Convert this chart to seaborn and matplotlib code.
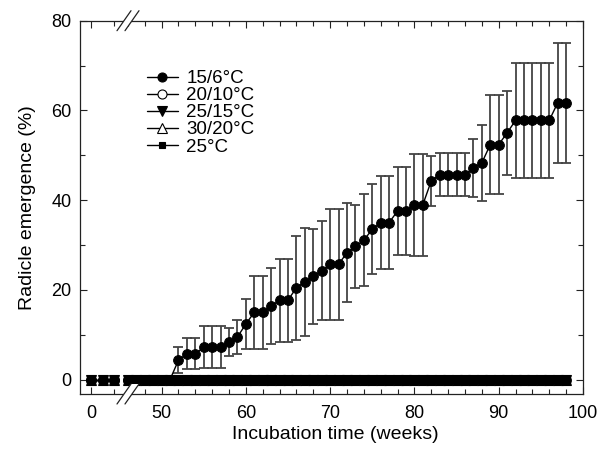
import numpy as np
import pandas as pd
import seaborn as sns
import matplotlib
matplotlib.use("Agg")
import matplotlib.pyplot as plt
from matplotlib.lines import Line2D
from matplotlib.patches import Polygon
from matplotlib.ticker import MultipleLocator, FixedLocator

# weeks before the axis break, and after it
weeks_early = [0, 1, 2]
weeks_late = [46, 47, 48, 49, 50, 51, 52, 53, 54, 55, 56, 57, 58, 59, 60,
              61, 62, 63, 64, 65, 66, 67, 68, 69, 70, 71, 72, 73, 74, 75,
              76, 77, 78, 79, 80, 81, 82, 83, 84, 85, 86, 87, 88, 89, 90,
              91, 92, 93, 94, 95, 96, 97, 98]

# radicle emergence (%) at 15/6 C, weeks_late
emerg_15_6 = [0, 0, 0, 0, 0, 0, 4.3, 5.8, 5.8, 7.2, 7.2, 7.2, 8.4, 9.5, 12.4,
              15.0, 15.0, 16.4, 17.7, 17.7, 20.5, 21.8, 23.0, 24.3, 25.7, 25.7, 28.3, 29.7, 31.1, 33.5,
              35.0, 35.0, 37.6, 37.6, 39.0, 39.0, 44.3, 45.7, 45.7, 45.7, 45.7, 47.2, 48.3, 52.4, 52.4,
              55.0, 57.8, 57.8, 57.8, 57.8, 57.8, 61.7, 61.7]
err_15_6 = [0, 0, 0, 0, 0, 0, 2.9, 3.4, 3.4, 4.7, 4.7, 4.7, 3.1, 3.8, 5.5,
            8.1, 8.1, 8.5, 9.2, 9.2, 11.6, 12.1, 10.6, 11.1, 12.3, 12.3, 11.1, 9.2, 10.2, 10.0,
            10.3, 10.3, 9.8, 9.8, 11.4, 11.4, 5.5, 4.8, 4.8, 4.8, 4.8, 6.5, 8.4, 11.0, 11.0,
            9.4, 12.8, 12.8, 12.8, 12.8, 12.8, 13.4, 13.4]

# all other regimes stayed at zero
emerg_zero = [0] * len(weeks_late)
emerg_early = [0, 0, 0]

labels = ["15/6\u00b0C", "20/10\u00b0C", "25/15\u00b0C", "30/20\u00b0C", "25\u00b0C"]
markers = ["o", "o", "v", "^", "s"]
faces = ["black", "white", "black", "white", "black"]
sizes = [7, 7, 7, 7, 5.5]

sns.set_theme(style="ticks")
plt.rcParams["font.family"] = ["Liberation Sans", "DejaVu Sans"]
plt.rcParams["axes.edgecolor"] = "#222222"
plt.rcParams["axes.linewidth"] = 0.9
plt.rcParams["text.color"] = "black"
plt.rcParams["axes.labelcolor"] = "black"
plt.rcParams["xtick.labelcolor"] = "black"
plt.rcParams["ytick.labelcolor"] = "black"

W, H = 610, 455
fig = plt.figure(figsize=(W / 100, H / 100), dpi=100)

x0, x_break, x1 = 80, 127, 583
y_top, y_bot = 20.7, 394
ax_l = fig.add_axes([x0 / W, 1 - y_bot / H, (x_break - x0) / W, (y_bot - y_top) / H])
ax_r = fig.add_axes([x_break / W, 1 - y_bot / H, (x1 - x_break) / W, (y_bot - y_top) / H], sharey=ax_l)

late_df = pd.DataFrame({"week": weeks_late, "val": emerg_15_6, "err": err_15_6})
early_df = pd.DataFrame({"week": weeks_early, "val": emerg_early})

# other regimes, flat at zero (open markers under the filled ones)
draw_order = [1, 3, 4, 2]
for ax, wk, zero in [(ax_l, weeks_early, emerg_early), (ax_r, weeks_late, emerg_zero)]:
    for i in draw_order:
        sns.lineplot(x=wk, y=zero, ax=ax, color="black", lw=1, marker=markers[i],
                     markersize=sizes[i], markerfacecolor=faces[i], markeredgecolor="black",
                     markeredgewidth=0.8, legend=False, clip_on=False, zorder=3)

# 15/6 C series with error bars
has_err = late_df["err"] > 0
ax_r.errorbar(late_df["week"][has_err], late_df["val"][has_err],
              yerr=late_df["err"][has_err], fmt="none", ecolor="#444444",
              elinewidth=1.3, capsize=3.8, capthick=1.3, zorder=2)
sns.lineplot(data=late_df, x="week", y="val", ax=ax_r, color="black", lw=1, marker="o",
             markersize=sizes[0], markerfacecolor="black", markeredgecolor="black",
             legend=False, clip_on=False, zorder=4)
sns.lineplot(data=early_df, x="week", y="val", ax=ax_l, color="black", lw=1, marker="o",
             markersize=sizes[0], markerfacecolor="black", markeredgecolor="black",
             legend=False, clip_on=False, zorder=4)

ax_l.set_xlim(-0.96, 3.13)
ax_r.set_xlim(45.9, 100)
ax_l.set_ylim(-3.2, 80)

ax_l.yaxis.set_major_locator(MultipleLocator(20))
ax_l.yaxis.set_minor_locator(MultipleLocator(10))
ax_l.xaxis.set_major_locator(FixedLocator([0]))
ax_l.xaxis.set_minor_locator(FixedLocator([2]))
ax_r.xaxis.set_major_locator(MultipleLocator(10))
ax_r.xaxis.set_minor_locator(MultipleLocator(2))

ax_l.spines["right"].set_visible(False)
ax_r.spines["left"].set_visible(False)
for ax in (ax_l, ax_r):
    ax.tick_params(which="both", direction="in", top=True, width=0.8, color="#222222",
                   labelsize=13, pad=6)
    ax.tick_params(which="major", length=5)
    ax.tick_params(which="minor", length=3.5)
    ax.set_xlabel("")
    ax.set_ylabel("")
ax_l.tick_params(axis="y", which="both", left=True, right=False)
ax_r.tick_params(axis="y", which="both", left=False, right=True, labelleft=False)
ax_l.tick_params(axis="x", pad=8)
ax_r.tick_params(axis="x", pad=8)

ax_l.set_ylabel("Radicle emergence (%)", fontsize=14)
ax_l.yaxis.set_label_coords(-0.94, 0.5)
ax_r.set_xlabel("Incubation time (weeks)", fontsize=14)
ax_r.xaxis.set_label_coords(0.456, -0.086)

# legend, no frame
handles = [Line2D([], [], color="black", lw=1, marker=m, markersize=s - 0.5,
                  markerfacecolor=fc, markeredgecolor="black", markeredgewidth=0.8)
           for m, fc, s in zip(markers, faces, sizes)]
fig.legend(handles, labels, loc="upper left", bbox_to_anchor=(147 / W, 1 - 70 / H),
           frameon=False, fontsize=13.5, handlelength=1.65, handletextpad=0.45,
           labelspacing=0.0, borderpad=0, borderaxespad=0)

# axis break marks on top and bottom spines
for yc in (y_top, y_bot):
    cx = x_break + 2
    a = [(cx - 12, yc + 10), (cx + 2, yc - 10)]
    b = [(cx - 4, yc + 10), (cx + 10, yc - 10)]
    gap = Polygon([(p[0] / W, 1 - p[1] / H) for p in (a[0], a[1], b[1], b[0])],
                  closed=True, facecolor="white", edgecolor="none",
                  transform=fig.transFigure, zorder=10)
    fig.add_artist(gap)
    for seg in (a, b):
        fig.add_artist(Line2D([seg[0][0] / W, seg[1][0] / W],
                              [1 - seg[0][1] / H, 1 - seg[1][1] / H],
                              color="#222222", lw=0.9, transform=fig.transFigure, zorder=11))

fig.savefig("out.png", dpi=100)
